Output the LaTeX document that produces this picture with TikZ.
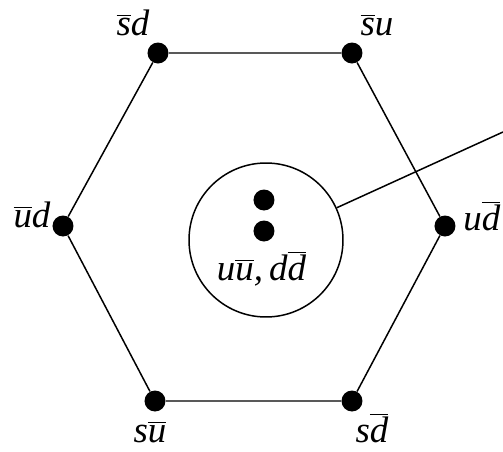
\documentclass[tikz,border=0pt]{standalone}
\usepackage{fontspec}
\setmainfont{Liberation Serif}
\newcommand{\qb}[1]{$\overline{\mbox{\itshape #1}}$}
\begin{document}
\begin{tikzpicture}[vtx/.style={circle,fill=black,inner sep=0pt,minimum size=0.42cm},lab/.style={font=\fontsize{21}{24}\selectfont\itshape,anchor=base,inner sep=0pt},edge/.style={line width=0.85pt}]
\useasboundingbox (0,0) rectangle (10.06,9.02);
\node[vtx](tl) at (3.16,7.96){};
\node[vtx](tr) at (7.04,7.96){};
\node[vtx](r) at (8.90,4.50){};
\node[vtx](br) at (7.04,1.00){};
\node[vtx](bl) at (3.10,1.00){};
\node[vtx](l) at (1.26,4.50){};
\draw[edge](tl)--(tr)--(r)--(br)--(bl)--(l)--(tl);
\node[circle,draw,edge,minimum size=3.08cm,inner sep=0pt](mix) at (5.32,4.22){};
\node[vtx](d1) at (5.28,5.02){};
\node[vtx](d2) at (5.28,4.40){};
\node[lab](mixlab) at (5.23,3.42){u\qb{u},\,d\qb{d}};
\coordinate(out) at (10.06,6.38);
\draw[edge](mix)--(out);
% meson labels
\node[lab](ltl) at (2.66,8.32){\qb{s}d};
\node[lab](ltr) at (7.54,8.32){\qb{s}u};
\node[lab](ll) at (0.64,4.48){\qb{u}d};
\node[lab,anchor=base west](lr) at (9.26,4.42){u\qb{d}};
\node[lab](lbl) at (3.00,0.18){s\qb{u}};
\node[lab](lbr) at (7.44,0.18){s\qb{d}};
\end{tikzpicture}
\end{document}
